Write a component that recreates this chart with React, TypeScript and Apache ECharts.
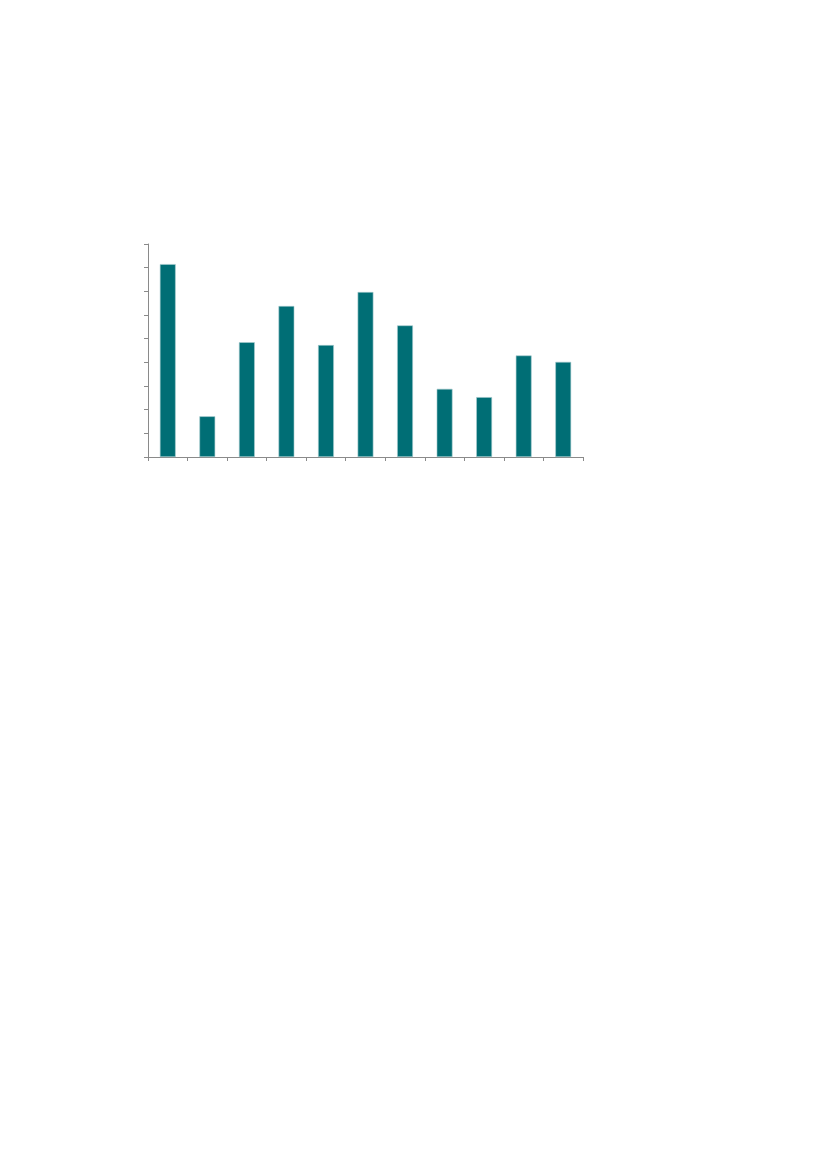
import React, { useEffect, useRef } from "react";
import * as echarts from "echarts";

// Eleven unlabeled categories (axis 0..9)
const categories = ["1", "2", "3", "4", "5", "6", "7", "8", "9", "10", "11"];
const values = [8.15, 1.72, 4.85, 6.38, 4.73, 6.97, 5.56, 2.88, 2.53, 4.29, 4.02];
const yMin = 0;
const yMax = 9;
const yStep = 1;

export default function App() {
  const chartRef = useRef<HTMLDivElement>(null);

  useEffect(() => {
    if (!chartRef.current) return;
    const chart = echarts.init(chartRef.current, undefined, { renderer: "svg" });

    const axisColor = "#8a8a8a";

    const option: echarts.EChartsOption = {
      animation: false,
      backgroundColor: "#ffffff",
      grid: {
        left: 148,
        top: 244,
        width: 435,
        height: 213,
        containLabel: false,
      },
      xAxis: {
        type: "category",
        data: categories,
        boundaryGap: true,
        axisLine: { lineStyle: { color: axisColor, width: 1 } },
        axisTick: { show: true, length: 4, lineStyle: { color: axisColor } },
        axisLabel: { show: false },
        splitLine: { show: false },
      },
      yAxis: {
        type: "value",
        min: yMin,
        max: yMax,
        interval: yStep,
        axisLine: { show: true, lineStyle: { color: axisColor, width: 1 } },
        axisTick: { show: true, length: 4, lineStyle: { color: axisColor } },
        axisLabel: { show: false },
        splitLine: { show: false },
      },
      series: [
        {
          name: "Values",
          type: "bar",
          data: values,
          barWidth: "40%",
          itemStyle: {
            color: "#006e75",
            borderColor: "#a9cdd0",
            borderWidth: 0.6,
          },
        },
      ],
    };

    chart.setOption(option);

    return () => {
      chart.dispose();
    };
  }, []);

  return (
    <div
      ref={chartRef}
      style={{ position: "absolute", left: 0, top: 0, width: 827, height: 1169 }}
    />
  );
}
